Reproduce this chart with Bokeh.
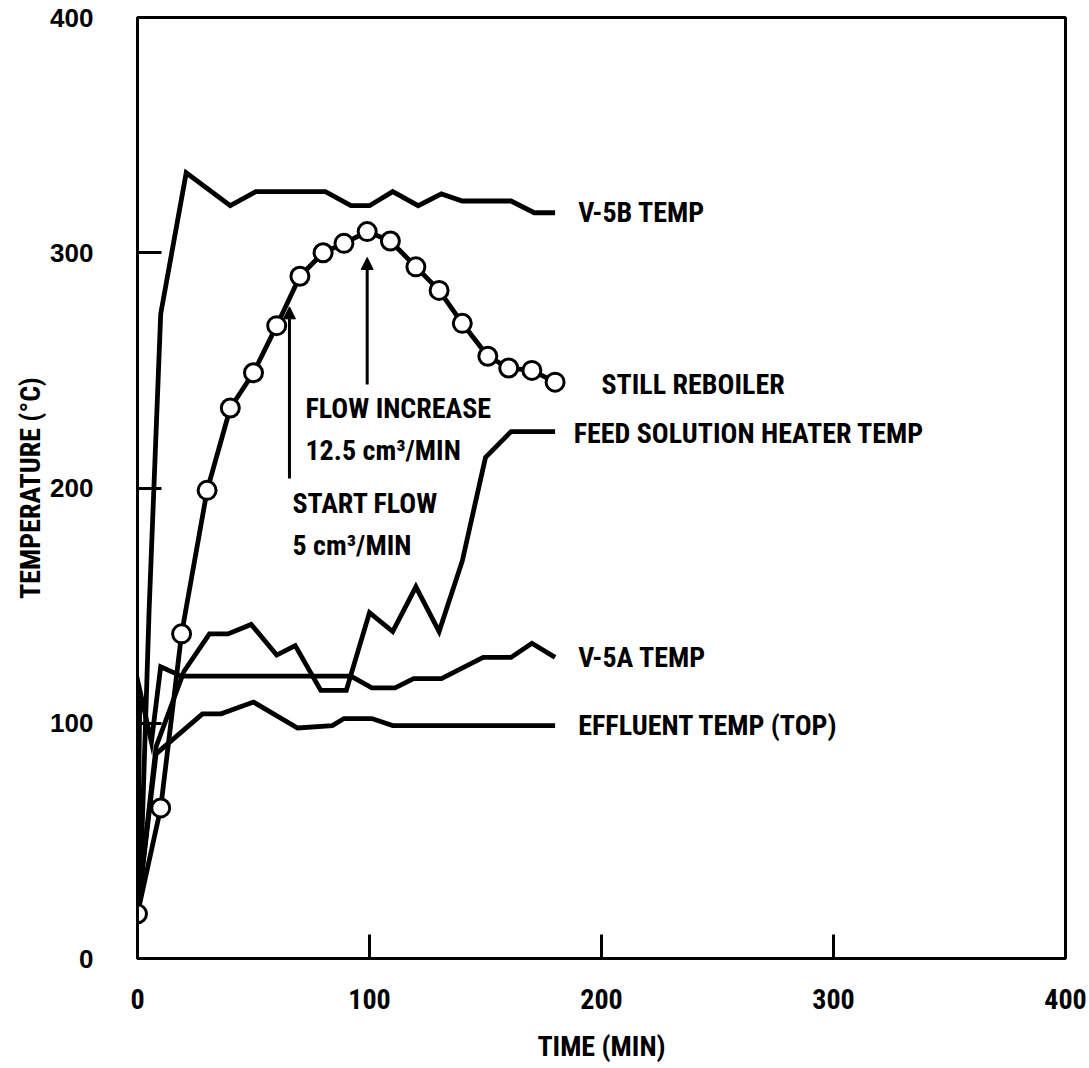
from bokeh.plotting import figure
from bokeh.models import Range1d, FixedTicker, Arrow, NormalHead
from bokeh.core.properties import value
from bokeh.embed import file_html
from bokeh.resources import INLINE

COND = "Roboto Condensed"

# ---- data (time in min, temperature in deg C) ----
v5b_t = [0, 2, 5, 10, 21, 40, 51, 81, 92, 100, 110, 121, 131, 140, 161, 171, 180]
v5b_T = [20, 55, 148, 274, 334, 320, 326, 326, 320, 320, 326, 320, 325, 322, 322, 317, 317]

reb_t = [0, 10, 19, 30, 40, 50, 60, 70, 80, 89, 99, 109, 120, 130, 140, 151, 160, 170, 180]
reb_T = [19, 64, 138, 199, 234, 249, 269, 290, 300, 304, 309, 305, 294, 284, 270, 256, 251, 250, 245]

feed_t = [0, 8, 20, 31, 39, 49, 60, 68, 79, 90, 100, 110, 120, 130, 140, 150, 161, 180]
feed_T = [20, 90, 122, 138, 138, 142, 129, 133, 114, 114, 147, 139, 158, 139, 169, 213, 224, 224]

v5a_t = [0, 1, 6, 10, 19, 92, 101, 111, 119, 131, 149, 161, 170, 180]
v5a_T = [20, 114, 92, 124, 120, 120, 115, 115, 119, 119, 128, 128, 134, 128]

eff_t = [0, 8, 28, 36, 50, 69, 84, 89, 101, 110, 180]
eff_T = [20, 87, 104, 104, 109, 98, 99, 102, 102, 99, 99]

series_labels = ["V-5B TEMP", "STILL REBOILER", "FEED SOLUTION HEATER TEMP", "V-5A TEMP", "EFFLUENT TEMP (TOP)"]
series_label_x = [190, 200, 188, 190, 190]
series_label_y = [317, 244, 223, 128, 99]

note_texts = ["FLOW INCREASE", "12.5 cm³/MIN", "START FLOW", "5 cm³/MIN"]
note_x = [72.4, 72.4, 66.8, 66.8]
note_y = [234, 216, 193.5, 175.5]

arrow_x = [65.5, 99]
arrow_y0 = [204, 244]
arrow_y1 = [277, 298]

ticks = [0, 100, 200, 300, 400]

p = figure(width=1089, height=1068, output_backend="svg", toolbar_location=None,
           x_range=Range1d(0, 400), y_range=Range1d(0, 400),
           min_border_left=137, min_border_right=24, min_border_top=17, min_border_bottom=110)
p.grid.visible = False
p.outline_line_color = "black"
p.outline_line_width = 3
p.background_fill_color = "white"
p.border_fill_color = "white"

for ax in (p.xaxis[0], p.yaxis[0]):
    ax.ticker = FixedTicker(ticks=ticks)
    ax.major_tick_in = 24
    ax.major_tick_out = 0
    ax.minor_tick_in = 0
    ax.minor_tick_out = 0
    ax.major_tick_line_width = 3
    ax.axis_line_width = 3
    ax.major_label_text_color = "black"
    ax.axis_label_text_color = "black"
    ax.axis_label_text_font_style = "bold"
    ax.axis_label_text_font_size = "28px"

p.xaxis.major_label_text_font = COND
p.xaxis.major_label_text_font_style = "bold"
p.xaxis.major_label_text_font_size = "28px"
p.xaxis.major_label_standoff = 30
p.xaxis.axis_label = "TIME (MIN)"
p.xaxis.axis_label_text_font = COND
p.xaxis.axis_label_standoff = 18

p.yaxis.major_label_text_font = "Liberation Sans"
p.yaxis.major_label_text_font_style = "bold"
p.yaxis.major_label_text_font_size = "26px"
p.yaxis.major_label_standoff = 44
p.yaxis.axis_label = "TEMPERATURE (°C)"
p.yaxis.axis_label_text_font = COND
p.yaxis.axis_label_standoff = 0

lw = 4.8
p.line(v5b_t, v5b_T, line_color="black", line_width=lw, line_join="miter")
p.line(feed_t, feed_T, line_color="black", line_width=lw, line_join="miter")
p.line(v5a_t, v5a_T, line_color="black", line_width=lw, line_join="miter")
p.line(eff_t, eff_T, line_color="black", line_width=lw, line_join="miter")
p.line(reb_t, reb_T, line_color="black", line_width=lw)
p.scatter(reb_t, reb_T, marker="circle", size=18, fill_color="white", line_color="black", line_width=3)

for xa, ya0, ya1 in zip(arrow_x, arrow_y0, arrow_y1):
    p.add_layout(Arrow(end=NormalHead(size=12, fill_color="black", line_color="black", line_width=1),
                       x_start=xa, y_start=ya0, x_end=xa, y_end=ya1,
                       line_color="black", line_width=3))

p.text(series_label_x, series_label_y, text=series_labels, text_font=value(COND),
       text_font_style="bold", text_font_size="28px", text_baseline="middle", text_align="left",
       text_color="black")
p.text(note_x, note_y, text=note_texts, text_font=value(COND),
       text_font_style="bold", text_font_size="28px", text_baseline="middle", text_align="left",
       text_color="black")

open("out.html", "w").write(file_html(p, INLINE))
